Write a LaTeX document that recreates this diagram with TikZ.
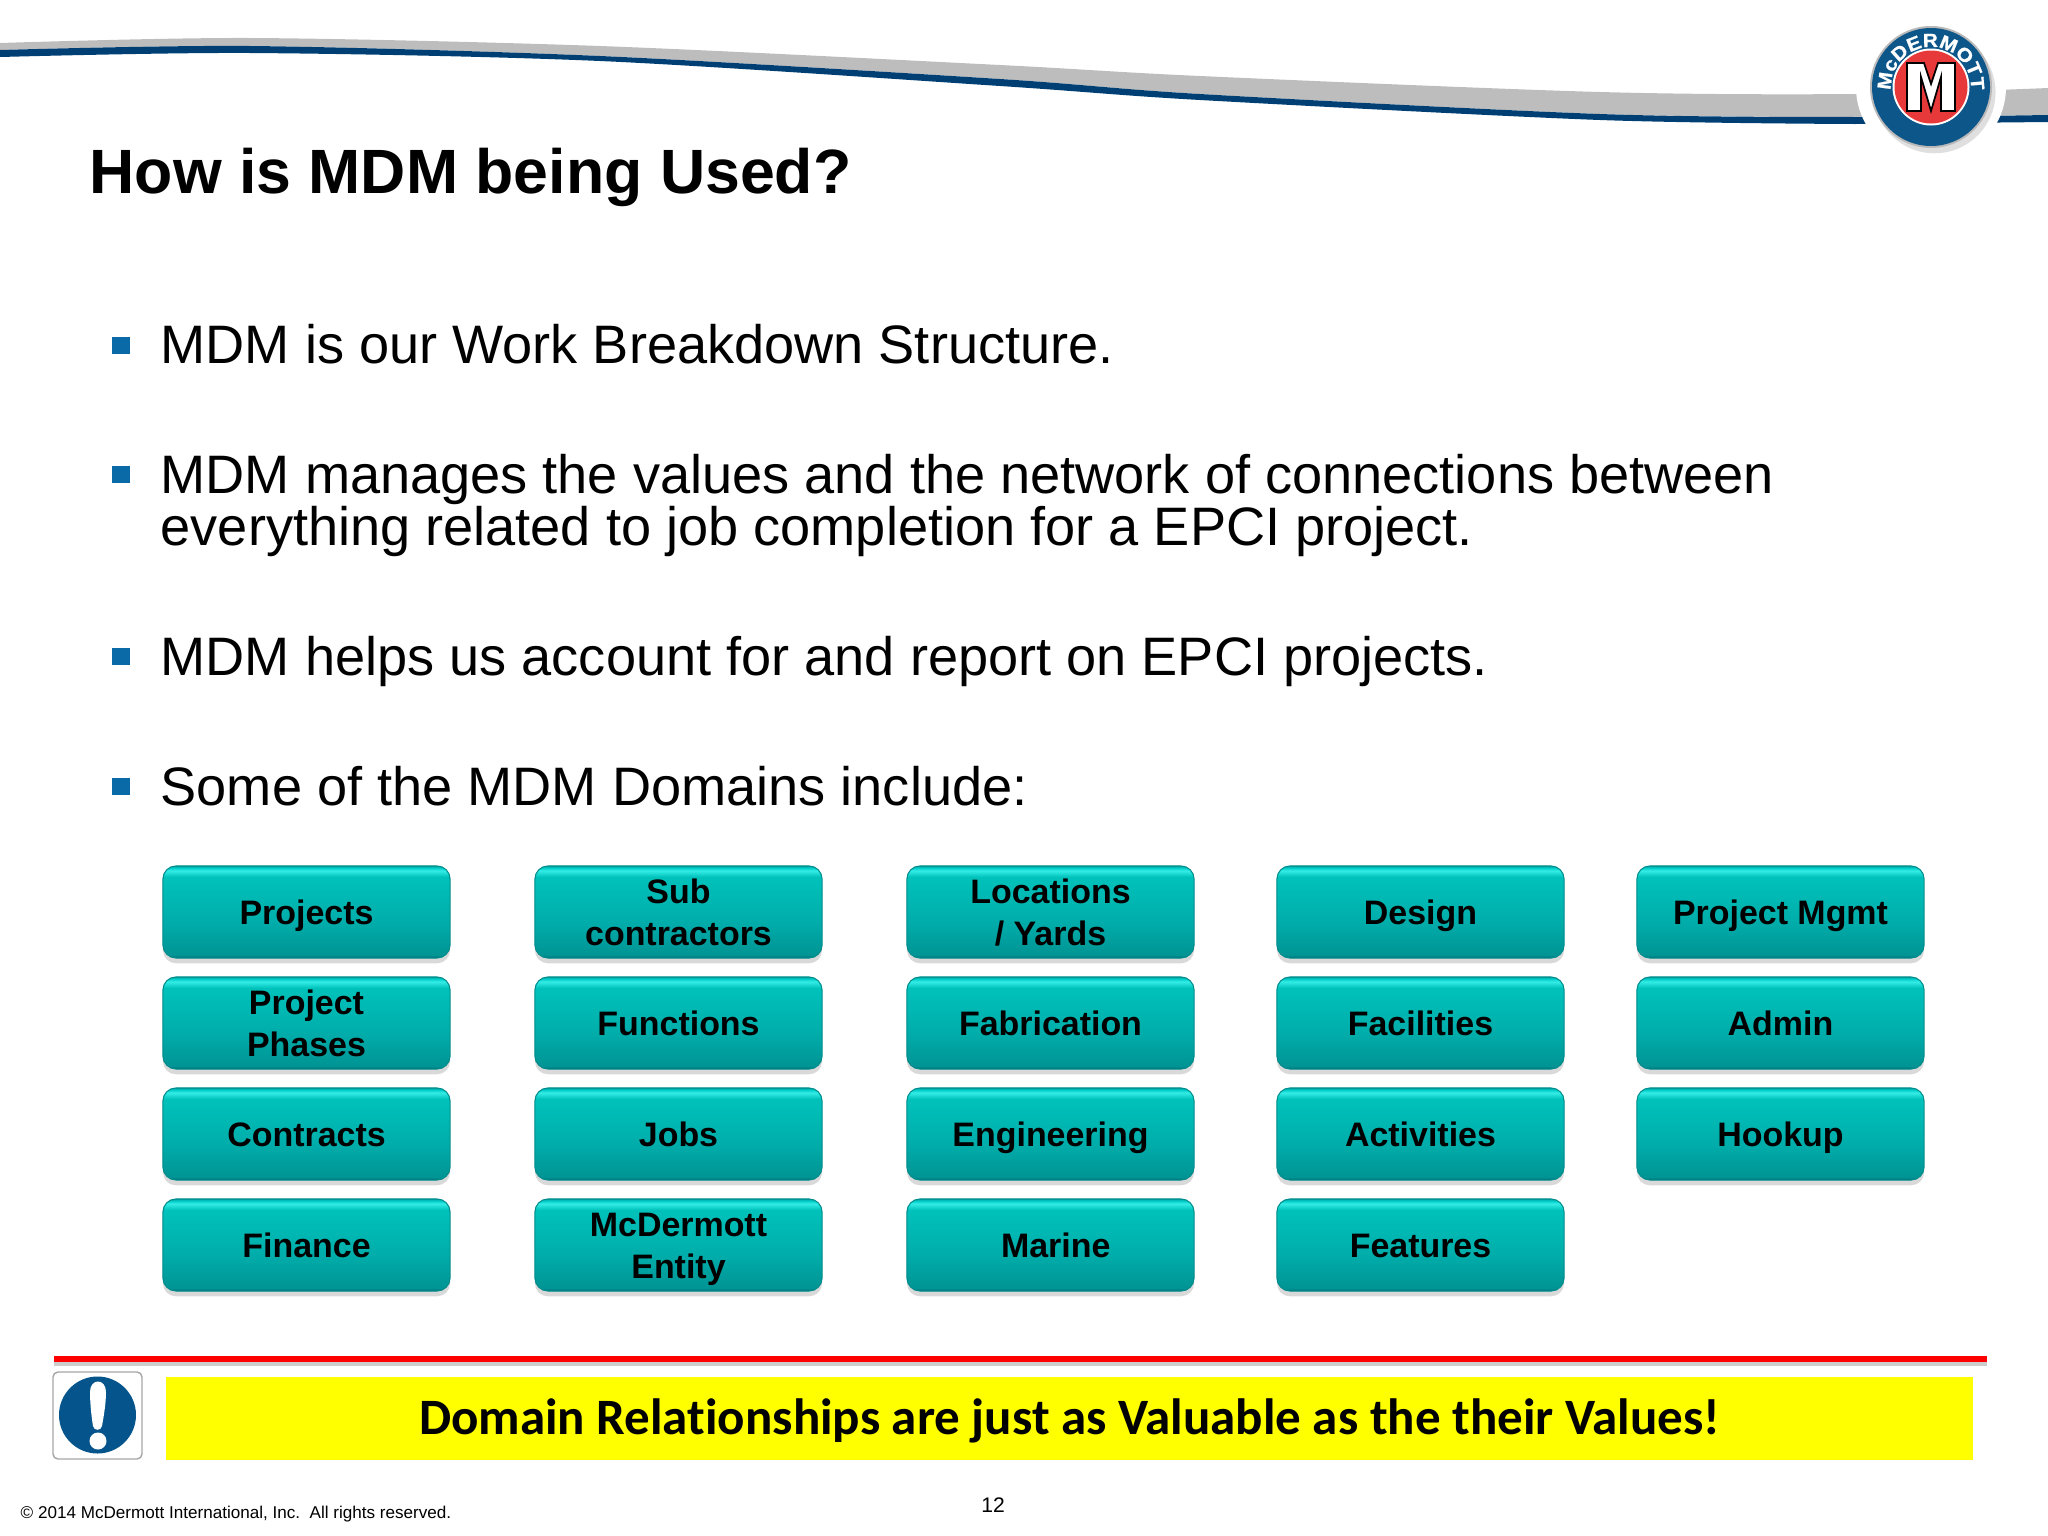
\documentclass[tikz,border=0pt]{standalone}
\usepackage{fontspec}
\setmainfont{Liberation Sans}
\newfontfamily\barfont[Ligatures=NoCommon]{Carlito}
\newfontfamily\logofont[FakeStretch=1.1,FakeBold=0.8]{Liberation Sans Bold}
\usepackage{tikz}
\usetikzlibrary{shadows,decorations.text}

\definecolor{swooshgray}{RGB}{189,189,189}
\definecolor{swooshblue}{RGB}{0,63,115}
\definecolor{logoblue}{RGB}{13,86,138}
\definecolor{logored}{RGB}{232,57,58}
\definecolor{bulletblue}{RGB}{10,106,168}
\definecolor{iconblue}{RGB}{5,85,140}
\definecolor{baryellow}{RGB}{255,255,0}
\definecolor{domainedge}{RGB}{0,140,140}

\pgfdeclareverticalshading{domainshade}{100bp}{
  rgb(0bp)=(0,0.42,0.44);
  rgb(25bp)=(0,0.42,0.44);
  rgb(26.5bp)=(0,0.58,0.58);
  rgb(45bp)=(0,0.68,0.67);
  rgb(69bp)=(0,0.76,0.73);
  rgb(72.5bp)=(0.2,0.93,0.9);
  rgb(74bp)=(0,0.8,0.78);
  rgb(75bp)=(0,0.66,0.66);
  rgb(100bp)=(0,0.66,0.66)}

\newcommand{\domainline}[1]{\rule{0pt}{6.9pt}\smash{#1}}

\tikzset{
  domainbox/.style={rounded corners=0.13cm, shading=domainshade, shading angle=0,
    draw=domainedge, line width=0.3pt,
    minimum width=2.87cm, minimum height=0.92cm, inner sep=0pt, align=center,
    font=\fontsize{9.65}{11.9}\selectfont\bfseries,
    drop shadow={shadow xshift=0pt, shadow yshift=-1.5pt, opacity=0.3}},
  bulletbox/.style={fill=bulletblue, minimum size=0.17cm, inner sep=0pt},
  bodytext/.style={anchor=base west, inner sep=0pt, align=left,
    font=\fontsize{15.4}{14.6}\selectfont}
}

\begin{document}
\begin{tikzpicture}[x=0.01cm,y=-0.01cm]

\useasboundingbox (0,0) rectangle (2048,1536);

% Draw Swoosh

\fill[swooshgray] plot[smooth] coordinates {(0,43) (250,38) (600,46) (1000,65) (1200,76) (1600,92) (1855,94) (2048,88)}
-- (2048,115) -- plot[smooth] coordinates {(1855,117) (1600,114) (1200,94) (1000,79) (600,56) (250,46) (0,50)} -- cycle;

\fill[swooshblue] plot[smooth] coordinates {(0,50) (250,46) (600,56) (1000,79) (1200,94) (1600,114) (1855,117) (2048,115)}
-- (2048,122) -- plot[smooth] coordinates {(1855,124) (1600,120) (1200,100) (1000,86) (600,61) (250,53) (0,57)} -- cycle;

% Draw Logo

\begin{scope}[shift={(1931,87)},x=0.01cm,y=0.01cm]
\fill[white] (0,0) circle (75);
\fill[gray!55, drop shadow={shadow xshift=1pt, shadow yshift=-1.5pt, opacity=0.25}] (0,0) circle (61);
\fill[logoblue] (0,0) circle (59);
\fill[white] (0,0) circle (38.5);
\fill[logored] (0,0) circle (36.5);
\draw[fill=white, line width=0.5pt, line join=miter] (-24,24) -- (-7,24) -- (0,3) -- (7,24) -- (24,24)
-- (24,-24) -- (10,-24) -- (10,10) -- (0,-24) -- (-10,10) -- (-10,-24) -- (-24,-24) -- cycle;
\path[decorate, decoration={text along path, text align=center,
  text={|\logofont\fontsize{5.4}{6}\selectfont\color{white}|McDERMOTT}}]
  (190:40) arc (190:-10:40);
\end{scope}

% Draw Title

\node[anchor=base west, inner sep=0pt, font=\fontsize{17.8}{20}\selectfont\bfseries] (title) at (89,193) {How is MDM being Used?};

% Draw Bullets

\node[bulletbox] (bullet1) at (121,345) {};

\node[bulletbox] (bullet2) at (121,474) {};

\node[bulletbox] (bullet3) at (121,656) {};

\node[bulletbox] (bullet4) at (121,786) {};

% Draw Body Text

\node[bodytext] (line1) at (160,363) {MDM is our Work Breakdown Structure.};

\node[bodytext] (line2) at (160,545) {MDM manages the values and the network of connections between\\everything related to job completion for a EPCI project.};

\node[bodytext] (line3) at (160,675) {MDM helps us account for and report on EPCI projects.};

\node[bodytext] (line4) at (160,805) {Some of the MDM Domains include:};

% Draw Domains, Column 1

\node[domainbox] (projects) at (306.5,912) {\domainline{Projects}};

\node[domainbox] (phases) at (306.5,1023) {\domainline{Project}\\\domainline{Phases}};

\node[domainbox] (contracts) at (306.5,1134) {\domainline{Contracts}};

\node[domainbox] (finance) at (306.5,1245) {\domainline{Finance}};

% Draw Domains, Column 2

\node[domainbox] (subs) at (678.5,912) {\domainline{Sub}\\\domainline{contractors}};

\node[domainbox] (functions) at (678.5,1023) {\domainline{Functions}};

\node[domainbox] (jobs) at (678.5,1134) {\domainline{Jobs}};

\node[domainbox] (entity) at (678.5,1245) {\domainline{McDermott}\\\domainline{Entity}};

% Draw Domains, Column 3

\node[domainbox] (yards) at (1050.5,912) {\domainline{Locations}\\\domainline{/ Yards}};

\node[domainbox] (fabrication) at (1050.5,1023) {\domainline{Fabrication}};

\node[domainbox] (engineering) at (1050.5,1134) {\domainline{Engineering}};

\node[domainbox] (marine) at (1050.5,1245) {\kern3pt\domainline{Marine}};

% Draw Domains, Column 4

\node[domainbox] (design) at (1420.5,912) {\domainline{Design}};

\node[domainbox] (facilities) at (1420.5,1023) {\domainline{Facilities}};

\node[domainbox] (activities) at (1420.5,1134) {\domainline{Activities}};

\node[domainbox] (features) at (1420.5,1245) {\domainline{Features}};

% Draw Domains, Column 5

\node[domainbox] (mgmt) at (1780.5,912) {\domainline{Project Mgmt}};

\node[domainbox] (admin) at (1780.5,1023) {\domainline{Admin}};

\node[domainbox] (hookup) at (1780.5,1134) {\domainline{Hookup}};

% Draw Red Line

\fill[red, drop shadow={shadow xshift=0pt, shadow yshift=-1pt, opacity=0.4}] (54,1356) rectangle (1987,1362);

% Draw Icon

\draw[gray!70, fill=white, line width=0.4pt, rounded corners=0.05cm] (53,1372) rectangle (142,1459);

\fill[iconblue] (97.5,1415) circle (38.5);

\fill[white] (90,1392) .. controls (90,1378) and (106,1378) .. (106,1392)
.. controls (106,1405) and (103,1420) .. (102,1426)
.. controls (101,1431) and (94,1431) .. (93,1426)
.. controls (92,1420) and (90,1405) .. (90,1392) -- cycle;

\fill[white] (98,1441) circle (8.5);

% Draw Bar

\node[fill=baryellow, minimum width=18.05cm, minimum height=0.83cm, inner sep=0pt, font=\barfont\fontsize{14.5}{16}\selectfont\bfseries] (bar) at (1069.5,1418.5) {\raisebox{-4.6pt}[0pt][0pt]{Domain Relationships are just as Valuable as the their Values!}};

% Draw Footer

\node[anchor=base west, inner sep=0pt, font=\fontsize{4.86}{6}\selectfont] (copyright) at (20,1518) {© 2014 McDermott International, Inc.\ \ All rights reserved.};

\node[anchor=base, inner sep=0pt, font=\fontsize{6}{7}\selectfont] (pagenum) at (993,1512) {12};

\end{tikzpicture}
\end{document}
